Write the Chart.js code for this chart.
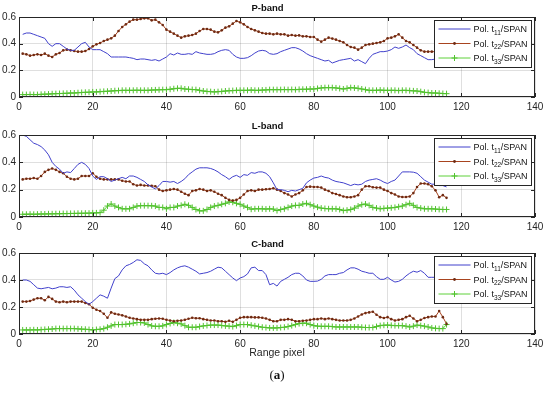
<!DOCTYPE html>
<html>
<head>
<meta charset="utf-8">
<script src="https://cdn.jsdelivr.net/npm/chart.js@4.4.1/dist/chart.umd.min.js"></script>
<style>
  body { margin: 0; background: #fff; }
  #figura { position: relative; width: 550px; height: 393px; font-family: "Liberation Sans", Arial, sans-serif; }
  canvas { position: absolute; left: 0; }
  .rotulo { position: absolute; left: 0; width: 554px; text-align: center; color: #262626; }
</style>
</head>
<body>
<div id="figura">
  <canvas id="graficoP" width="550" height="118" style="top:0px"></canvas>
  <canvas id="graficoL" width="550" height="120" style="top:118px"></canvas>
  <canvas id="graficoC" width="550" height="119" style="top:236px"></canvas>
  <div class="rotulo" style="top:346px; font-size:10.5px;">Range pixel</div>
  <div class="rotulo" style="top:367px; font-size:13px; font-family:'Liberation Serif', serif; color:#111;">(<b>a</b>)</div>
</div>
<script>
// Dados (valor de cada pixel de range, 1..116)
const pBandT11 = [0.47,0.48,0.48,0.47,0.46,0.45,0.44,0.40,0.38,0.40,
  0.40,0.38,0.36,0.35,0.35,0.375,0.40,0.41,0.375,0.355,
  0.355,0.355,0.34,0.325,0.30,0.30,0.30,0.30,0.30,0.295,
  0.29,0.28,0.285,0.285,0.28,0.275,0.28,0.27,0.285,0.30,
  0.325,0.315,0.33,0.32,0.32,0.325,0.32,0.34,0.33,0.325,
  0.32,0.32,0.325,0.34,0.35,0.355,0.35,0.32,0.30,0.29,
  0.29,0.295,0.31,0.33,0.345,0.35,0.345,0.325,0.32,0.325,
  0.34,0.35,0.36,0.37,0.37,0.36,0.345,0.325,0.31,0.30,
  0.29,0.28,0.27,0.275,0.255,0.265,0.275,0.28,0.285,0.29,
  0.27,0.28,0.265,0.25,0.29,0.32,0.33,0.34,0.34,0.345,
  0.355,0.375,0.365,0.375,0.39,0.37,0.355,0.325,0.31,0.295,
  0.28,0.28,0.285,0.29,0.29,0.29];
const pBandT22 = [0.325,0.32,0.31,0.315,0.32,0.315,0.325,0.31,0.30,0.32,
  0.33,0.35,0.355,0.35,0.345,0.34,0.34,0.345,0.36,0.38,
  0.395,0.405,0.42,0.43,0.44,0.46,0.495,0.525,0.545,0.565,
  0.58,0.58,0.585,0.59,0.59,0.575,0.58,0.56,0.54,0.505,
  0.49,0.475,0.46,0.445,0.455,0.46,0.465,0.475,0.495,0.51,
  0.51,0.505,0.49,0.485,0.50,0.52,0.53,0.55,0.57,0.56,
  0.545,0.525,0.51,0.50,0.49,0.48,0.475,0.475,0.47,0.475,
  0.47,0.47,0.46,0.465,0.46,0.462,0.455,0.455,0.45,0.45,
  0.43,0.415,0.43,0.445,0.438,0.43,0.42,0.41,0.39,0.375,
  0.37,0.355,0.37,0.39,0.395,0.40,0.405,0.41,0.42,0.44,
  0.445,0.455,0.47,0.445,0.42,0.41,0.39,0.37,0.35,0.34,
  0.34,0.34,0.34,0.34,0.34,0.34];
const pBandT33 = [0.018,0.018,0.019,0.018,0.018,0.02,0.021,0.022,0.024,0.025,
  0.026,0.027,0.028,0.03,0.03,0.032,0.034,0.035,0.036,0.038,
  0.038,0.04,0.042,0.043,0.045,0.047,0.048,0.05,0.05,0.05,
  0.05,0.051,0.05,0.05,0.05,0.052,0.053,0.054,0.055,0.055,
  0.058,0.062,0.065,0.065,0.06,0.058,0.056,0.055,0.05,0.045,
  0.042,0.04,0.038,0.04,0.042,0.045,0.047,0.048,0.05,0.05,
  0.05,0.05,0.052,0.05,0.05,0.052,0.053,0.055,0.055,0.055,
  0.055,0.056,0.055,0.056,0.055,0.057,0.058,0.058,0.06,0.06,
  0.064,0.068,0.07,0.07,0.07,0.068,0.064,0.06,0.065,0.07,
  0.068,0.065,0.06,0.055,0.05,0.05,0.05,0.052,0.05,0.05,
  0.05,0.05,0.048,0.05,0.05,0.048,0.046,0.045,0.04,0.035,
  0.033,0.03,0.03,0.028,0.026,0.025];

const lBandT11 = [0.60,0.59,0.565,0.54,0.53,0.515,0.49,0.455,0.40,0.37,
  0.35,0.32,0.33,0.325,0.355,0.385,0.40,0.385,0.355,0.30,
  0.275,0.295,0.295,0.28,0.26,0.27,0.28,0.29,0.28,0.30,
  0.30,0.29,0.275,0.26,0.235,0.22,0.205,0.23,0.26,0.26,
  0.255,0.26,0.245,0.26,0.28,0.31,0.33,0.35,0.36,0.36,
  0.36,0.355,0.345,0.33,0.31,0.295,0.275,0.295,0.305,0.29,
  0.31,0.305,0.325,0.32,0.33,0.33,0.32,0.295,0.25,0.20,
  0.20,0.195,0.185,0.195,0.19,0.20,0.21,0.25,0.27,0.285,
  0.29,0.30,0.29,0.285,0.27,0.26,0.255,0.25,0.24,0.23,
  0.24,0.235,0.24,0.26,0.27,0.275,0.28,0.27,0.255,0.245,
  0.26,0.27,0.30,0.33,0.33,0.33,0.328,0.32,0.295,0.27,
  0.255,0.24,0.24,0.23,0.23,0.22];
const lBandT22 = [0.275,0.28,0.28,0.285,0.28,0.30,0.33,0.345,0.355,0.345,
  0.33,0.32,0.295,0.28,0.275,0.28,0.30,0.30,0.30,0.32,
  0.295,0.28,0.275,0.275,0.275,0.275,0.275,0.265,0.26,0.26,
  0.24,0.23,0.235,0.23,0.23,0.228,0.225,0.20,0.19,0.195,
  0.20,0.205,0.20,0.185,0.17,0.16,0.19,0.195,0.205,0.20,
  0.19,0.195,0.185,0.17,0.16,0.14,0.125,0.12,0.125,0.14,
  0.165,0.19,0.195,0.19,0.20,0.20,0.203,0.205,0.21,0.20,
  0.19,0.175,0.165,0.15,0.165,0.175,0.195,0.22,0.222,0.22,
  0.22,0.215,0.20,0.19,0.175,0.168,0.16,0.15,0.145,0.145,
  0.15,0.16,0.20,0.225,0.225,0.218,0.215,0.215,0.20,0.19,
  0.175,0.165,0.15,0.146,0.146,0.15,0.175,0.22,0.245,0.245,
  0.24,0.225,0.195,0.145,0.16,0.14];
const lBandT33 = [0.02,0.02,0.021,0.02,0.021,0.022,0.022,0.023,0.023,0.024,
  0.024,0.025,0.025,0.026,0.026,0.027,0.027,0.028,0.028,0.03,
  0.03,0.032,0.05,0.08,0.095,0.08,0.07,0.06,0.06,0.06,
  0.07,0.08,0.083,0.083,0.083,0.082,0.08,0.07,0.07,0.06,
  0.07,0.07,0.08,0.085,0.093,0.085,0.07,0.055,0.045,0.045,
  0.055,0.07,0.08,0.085,0.093,0.10,0.11,0.108,0.10,0.093,
  0.08,0.07,0.057,0.06,0.06,0.06,0.058,0.06,0.058,0.047,
  0.055,0.06,0.07,0.08,0.085,0.085,0.095,0.10,0.09,0.08,
  0.072,0.065,0.062,0.06,0.06,0.06,0.055,0.047,0.05,0.055,
  0.065,0.08,0.09,0.095,0.085,0.07,0.065,0.06,0.063,0.065,
  0.067,0.07,0.075,0.08,0.09,0.10,0.085,0.07,0.065,0.06,
  0.06,0.06,0.058,0.056,0.055,0.055];

const cBandT11 = [0.40,0.40,0.39,0.365,0.34,0.335,0.34,0.345,0.335,0.34,
  0.35,0.35,0.345,0.35,0.325,0.29,0.265,0.24,0.22,0.24,
  0.265,0.29,0.28,0.265,0.34,0.41,0.43,0.475,0.505,0.515,
  0.53,0.55,0.545,0.52,0.505,0.475,0.45,0.445,0.45,0.44,
  0.455,0.475,0.49,0.50,0.505,0.495,0.48,0.465,0.445,0.45,
  0.455,0.465,0.48,0.495,0.49,0.465,0.44,0.415,0.395,0.415,
  0.425,0.445,0.49,0.495,0.47,0.47,0.44,0.365,0.375,0.355,
  0.39,0.405,0.42,0.44,0.45,0.45,0.43,0.40,0.39,0.39,
  0.392,0.405,0.43,0.44,0.44,0.44,0.45,0.455,0.475,0.49,
  0.49,0.48,0.465,0.458,0.45,0.45,0.425,0.405,0.405,0.42,
  0.40,0.385,0.39,0.405,0.43,0.45,0.465,0.458,0.47,0.45,
  0.42,0.42,0.42,0.415,0.415,0.41];
const cBandT22 = [0.24,0.24,0.245,0.255,0.265,0.265,0.25,0.275,0.26,0.24,
  0.235,0.24,0.235,0.24,0.24,0.24,0.24,0.23,0.22,0.195,
  0.18,0.17,0.15,0.12,0.16,0.15,0.145,0.138,0.13,0.12,
  0.115,0.11,0.105,0.105,0.105,0.11,0.113,0.115,0.113,0.105,
  0.10,0.095,0.098,0.10,0.105,0.113,0.12,0.117,0.117,0.11,
  0.105,0.10,0.10,0.095,0.095,0.09,0.098,0.09,0.105,0.12,
  0.125,0.125,0.125,0.123,0.123,0.12,0.115,0.105,0.095,0.095,
  0.105,0.105,0.11,0.105,0.095,0.095,0.098,0.10,0.105,0.11,
  0.11,0.115,0.11,0.115,0.11,0.105,0.10,0.10,0.10,0.105,
  0.115,0.13,0.145,0.155,0.16,0.165,0.143,0.125,0.118,0.125,
  0.11,0.10,0.105,0.11,0.125,0.135,0.115,0.095,0.105,0.118,
  0.125,0.13,0.13,0.17,0.125,0.075];
const cBandT33 = [0.03,0.03,0.03,0.031,0.03,0.032,0.034,0.035,0.037,0.04,
  0.04,0.04,0.04,0.04,0.04,0.038,0.036,0.035,0.033,0.03,
  0.033,0.035,0.04,0.05,0.06,0.07,0.07,0.07,0.072,0.075,
  0.08,0.085,0.085,0.082,0.07,0.06,0.057,0.057,0.06,0.07,
  0.078,0.085,0.08,0.075,0.062,0.05,0.05,0.05,0.055,0.06,
  0.063,0.066,0.066,0.066,0.063,0.06,0.058,0.055,0.062,0.07,
  0.07,0.07,0.065,0.06,0.055,0.05,0.048,0.045,0.045,0.045,
  0.048,0.05,0.055,0.062,0.07,0.077,0.08,0.08,0.07,0.062,
  0.058,0.057,0.057,0.057,0.055,0.052,0.052,0.052,0.052,0.052,
  0.052,0.052,0.05,0.048,0.048,0.048,0.055,0.062,0.065,0.066,
  0.064,0.062,0.062,0.062,0.058,0.052,0.058,0.066,0.062,0.058,
  0.052,0.045,0.042,0.04,0.04,0.07];

// Eixos
const xTicks = [0, 20, 40, 60, 80, 100, 120, 140];
const yTicks = [0, 0.2, 0.4, 0.6];
const nomesSeries = ["11", "22", "33"]; // subscritos da legenda

const corAzul = "#4141cc";
const corMarrom = "#a8441f";
const corVerde = "#5fd13b";
const corEixo = "#262626";
const fonte = '"Liberation Sans", Arial, sans-serif';

// eixo x: pixel de range 1..N
function pontos(valores) {
  return valores.map((v, i) => ({ x: i + 1, y: v }));
}

// Desenha a caixa do eixo, ticks internos e a legenda (estilo MATLAB)
const pluginCaixa = {
  id: "caixaLegenda",
  afterDraw(chart) {
    const ctx = chart.ctx;
    const a = chart.chartArea;
    const sx = chart.scales.x, sy = chart.scales.y;
    ctx.save();
    ctx.strokeStyle = corEixo;
    ctx.lineWidth = 1;
    ctx.strokeRect(Math.round(a.left) + 0.5, Math.round(a.top) + 0.5,
      Math.round(a.right - a.left) - 1, Math.round(a.bottom - a.top) - 1);

    // ticks para dentro
    ctx.beginPath();
    xTicks.forEach(t => {
      const px = Math.round(sx.getPixelForValue(t)) + 0.5;
      ctx.moveTo(px, a.bottom); ctx.lineTo(px, a.bottom - 4);
      ctx.moveTo(px, a.top); ctx.lineTo(px, a.top + 4);
    });
    yTicks.forEach(t => {
      const py = Math.round(sy.getPixelForValue(t)) + 0.5;
      ctx.moveTo(a.left, py); ctx.lineTo(a.left + 4, py);
      ctx.moveTo(a.right, py); ctx.lineTo(a.right - 4, py);
    });
    ctx.stroke();

    // legenda
    const largura = 97, altura = 47;
    const x0 = Math.round(a.right - 4 - largura) + 0.5;
    const y0 = Math.round(a.top + 3) + 0.5;
    ctx.fillStyle = "#fff";
    ctx.fillRect(x0, y0, largura, altura);
    ctx.strokeStyle = corEixo;
    ctx.strokeRect(x0, y0, largura, altura);

    chart.data.datasets.forEach((ds, i) => {
      const y = y0 + 8.5 + i * 14.5;
      ctx.strokeStyle = ds.borderColor;
      ctx.lineWidth = 1;
      ctx.beginPath();
      ctx.moveTo(x0 + 4, y); ctx.lineTo(x0 + 36, y);
      ctx.stroke();
      const mx = x0 + 20;
      if (i === 1) {
        ctx.fillStyle = ds.pointBackgroundColor;
        ctx.beginPath(); ctx.arc(mx, y, 1.4, 0, Math.PI * 2); ctx.fill();
      } else if (i === 2) {
        ctx.strokeStyle = ds.pointBorderColor;
        ctx.beginPath();
        ctx.moveTo(mx - 3, y); ctx.lineTo(mx + 3, y);
        ctx.moveTo(mx, y - 3); ctx.lineTo(mx, y + 3);
        ctx.stroke();
      }
      // texto com subscrito
      ctx.fillStyle = "#111";
      ctx.textBaseline = "alphabetic";
      let tx = x0 + 39;
      ctx.font = "9px " + fonte;
      ctx.fillText("Pol. t", tx, y + 3);
      tx += ctx.measureText("Pol. t").width;
      ctx.font = "6.5px " + fonte;
      ctx.fillText(nomesSeries[i], tx, y + 5.5);
      tx += ctx.measureText(nomesSeries[i]).width;
      ctx.font = "9px " + fonte;
      ctx.fillText("/SPAN", tx, y + 3);
    });
    ctx.restore();
  }
};

function criarGrafico(idCanvas, titulo, t11, t22, t33) {
  const ctx = document.getElementById(idCanvas).getContext("2d");
  return new Chart(ctx, {
    type: "line",
    data: {
      datasets: [{
        label: "Pol. t11/SPAN",
        data: pontos(t11),
        borderColor: corAzul,
        borderWidth: 1,
        pointRadius: 0,
        tension: 0
      }, {
        label: "Pol. t22/SPAN",
        data: pontos(t22),
        borderColor: corMarrom,
        borderWidth: 1,
        pointRadius: 1.3,
        pointStyle: "circle",
        pointBackgroundColor: "#6e2a12",
        pointBorderColor: "#6e2a12",
        pointBorderWidth: 0,
        tension: 0
      }, {
        label: "Pol. t33/SPAN",
        data: pontos(t33),
        borderColor: corVerde,
        borderWidth: 1,
        pointRadius: 3,
        pointStyle: "cross",
        pointBorderColor: "#52c22f",
        pointBorderWidth: 1,
        tension: 0
      }]
    },
    options: {
      responsive: false,
      animation: false,
      devicePixelRatio: 1,
      layout: { padding: { left: 0, right: 15, top: 0, bottom: 0 } },
      plugins: {
        legend: { display: false },
        tooltip: { enabled: false },
        title: {
          display: true,
          text: titulo,
          color: "#111",
          font: { family: fonte, size: 9.5, weight: "bold" },
          padding: { top: 3, bottom: 2.6 }
        }
      },
      scales: {
        x: {
          type: "linear",
          min: 0,
          max: 140,
          afterBuildTicks: s => { s.ticks = xTicks.map(v => ({ value: v })); },
          afterFit: s => { s.height = 21; },
          grid: { color: "rgba(38,38,38,0.15)", drawTicks: false },
          border: { display: false },
          ticks: { color: corEixo, padding: 4, font: { family: fonte, size: 10 }, maxRotation: 0, autoSkip: false }
        },
        y: {
          min: 0,
          max: 0.6,
          afterBuildTicks: s => { s.ticks = yTicks.map(v => ({ value: v })); },
          afterFit: s => { s.width = 19; },
          grid: { color: "rgba(38,38,38,0.15)", drawTicks: false },
          border: { display: false },
          ticks: { color: corEixo, padding: 3, font: { family: fonte, size: 10 } }
        }
      }
    },
    plugins: [pluginCaixa]
  });
}

criarGrafico("graficoP", "P-band", pBandT11, pBandT22, pBandT33);
criarGrafico("graficoL", "L-band", lBandT11, lBandT22, lBandT33);
criarGrafico("graficoC", "C-band", cBandT11, cBandT22, cBandT33);
</script>
</body>
</html>
